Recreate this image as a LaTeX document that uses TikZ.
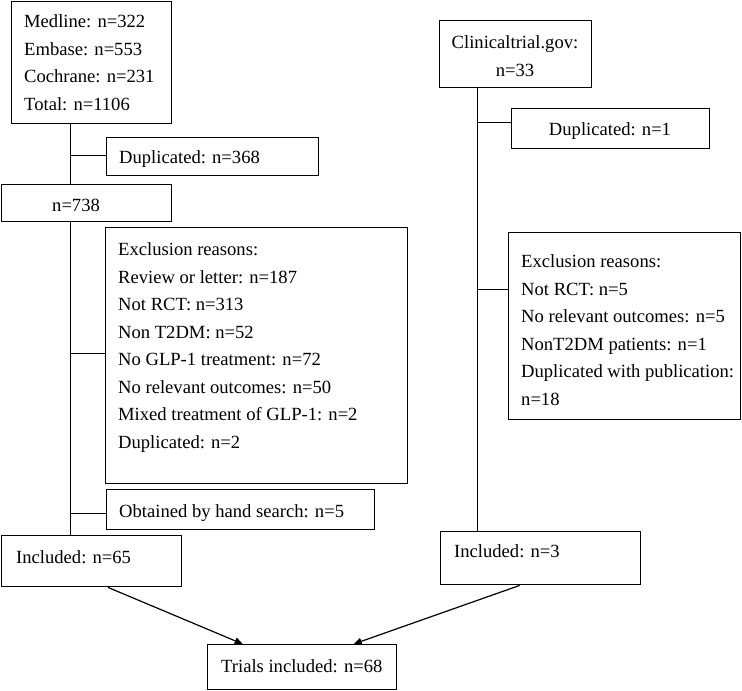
\documentclass[tikz,border=0pt]{standalone}
\usepackage{fontspec}
\setmainfont{Liberation Serif}
\usetikzlibrary{arrows.meta,calc}
\begin{document}
\begin{tikzpicture}[x=1pt,y=-1pt,
  box/.style={draw, line width=1.4pt, fill=white, inner sep=0pt, anchor=north west},
  txt/.style={font=\fontsize{18.6}{27.5}\selectfont, inner sep=0pt, align=left},
  conn/.style={line width=1pt},
  arr/.style={line width=1.2pt, -{Triangle[length=8pt,width=7pt]}}]
\useasboundingbox (0,0) rectangle (742,691);
% boxes
\node[box, minimum width=160pt, minimum height=122pt] (src) at (11,0.8) {};
\node[box, minimum width=212pt, minimum height=38pt] (dup368) at (106,137) {};
\node[box, minimum width=170pt, minimum height=37pt] (n738) at (1,184) {};
\node[box, minimum width=302pt, minimum height=256pt] (exclL) at (105,227) {};
\node[box, minimum width=268pt, minimum height=40pt] (hand) at (106,489) {};
\node[box, minimum width=180pt, minimum height=51pt] (inc65) at (0.8,535) {};
\node[box, minimum width=189pt, minimum height=45pt] (trials) at (207,644) {};
\node[box, minimum width=152pt, minimum height=67pt] (ct) at (439,20) {};
\node[box, minimum width=198pt, minimum height=40pt] (dup1) at (511,108) {};
\node[box, minimum width=232pt, minimum height=187pt] (exclR) at (508,232) {};
\node[box, minimum width=200pt, minimum height=53pt] (inc3) at (440,531) {};
% texts
\node[txt, anchor=north west] (srct) at (24,14.4) {Medline: n=322\\Embase: n=553\\Cochrane: n=231\\Total: n=1106};
\node[txt, anchor=base west] (dup368t) at (119,163) {Duplicated: n=368};
\node[txt, anchor=base west] (n738t) at (52,211) {n=738};
\node[txt, anchor=north west] (exclLt) at (118,242.4) {Exclusion reasons:\\Review or letter: n=187\\Not RCT: n=313\\Non T2DM: n=52\\No GLP-1 treatment: n=72\\No relevant outcomes: n=50\\Mixed treatment of GLP-1: n=2\\Duplicated: n=2};
\node[txt, anchor=base west] (handt) at (119,517) {Obtained by hand search: n=5};
\node[txt, anchor=base west] (inc65t) at (16,563) {Included: n=65};
\node[txt, anchor=base west] (trialst) at (221,672) {Trials included: n=68};
\node[txt, anchor=north, align=center] (ctt) at (515,35.4) {Clinicaltrial.gov:\\n=33};
\node[txt, anchor=base] (dup1t) at (610,135) {Duplicated: n=1};
\node[txt, anchor=north west] (exclRt) at (521,254.4) {Exclusion reasons:\\Not RCT: n=5\\No relevant outcomes: n=5\\NonT2DM patients: n=1\\Duplicated with publication:\\n=18};
\node[txt, anchor=base west] (inc3t) at (454,557) {Included: n=3};
% spine coordinates
\coordinate (lx) at (70.5,0);
\coordinate (rx) at (477,0);
\coordinate (lb1) at (70.5,155);
\coordinate (lb2) at (70.5,353);
\coordinate (lb3) at (70.5,513);
\coordinate (rb1) at (477,122);
\coordinate (rb2) at (477,289);
% left spine
\draw[conn] (src.south -| lx) -- (n738.north -| lx);
\draw[conn] (n738.south -| lx) -- (inc65.north -| lx);
\draw[conn] (lb1) -- (lb1 -| dup368.west);
\draw[conn] (lb2) -- (lb2 -| exclL.west);
\draw[conn] (lb3) -- (lb3 -| hand.west);
% right spine
\draw[conn] (ct.south -| rx) -- (inc3.north -| rx);
\draw[conn] (rb1) -- (rb1 -| dup1.west);
\draw[conn] (rb2) -- (rb2 -| exclR.west);
% arrows
\draw[arr] ([xshift=16.5pt]inc65.south) -- ([xshift=-59.5pt]trials.north);
\draw[arr] ([xshift=-21pt]inc3.south) -- ([xshift=51.5pt]trials.north);
\end{tikzpicture}
\end{document}
